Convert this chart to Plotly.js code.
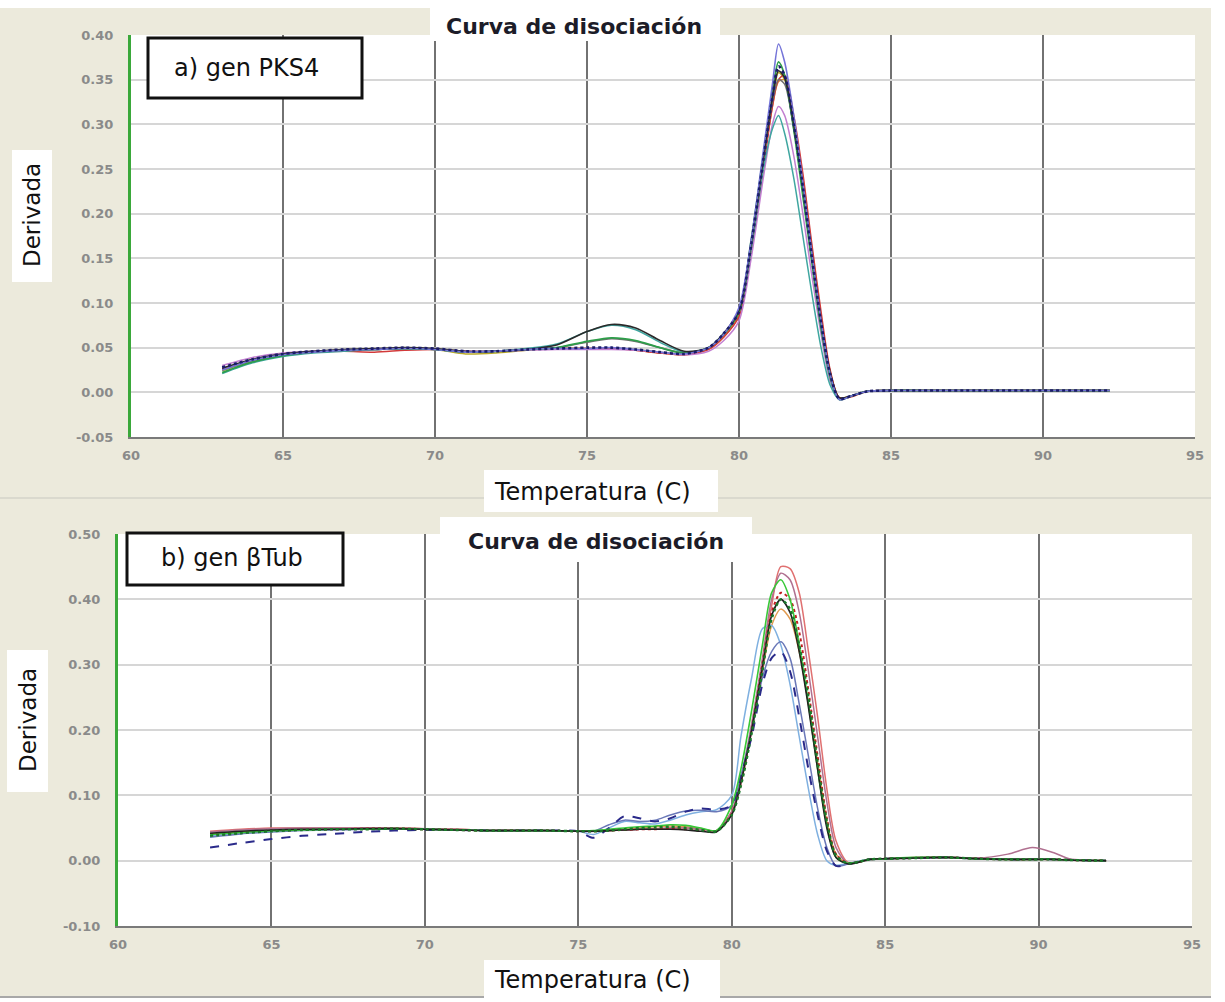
<!DOCTYPE html>
<html><head><meta charset="utf-8">
<script src="https://cdn.plot.ly/plotly-3.0.1.min.js"></script>
<style>html,body{margin:0;padding:0;background:#fff;}#chart{width:1225px;height:1002px;}</style>
</head><body><div id="chart"></div>
<script>
// ---------- DATA ----------
const tempA = [63,64,65,66,67,68,69,70,71,72,73,74,75,75.8,76.6,77.4,78.2,79,79.5,80,80.4,80.8,81.1,81.3,81.5,81.8,82.1,82.4,82.7,83,83.3,83.7,84.2,85,86,88,90,92.2];
const a_navy   = [0.028,0.037,0.043,0.046,0.048,0.049,0.05,0.049,0.046,0.046,0.048,0.049,0.05, 0.05,0.048,0.045,0.043,0.05,0.066, 0.09,0.165,0.26,0.33,0.365,0.355,0.30,0.23,0.15,0.078,0.02,-0.007,-0.004,0.001, 0.002,0.002,0.002,0.002,0.002];
const a_blue   = [0.025,0.036,0.042,0.045,0.047,0.048,0.049,0.048,0.045,0.046,0.048,0.049,0.049, 0.05,0.048,0.045,0.043,0.05,0.065, 0.095,0.17,0.27,0.345,0.39,0.37,0.31,0.235,0.155,0.08,0.02,-0.008,-0.004,0.001, 0.002,0.002,0.002,0.002,0.002];
const a_green  = [0.022,0.034,0.041,0.045,0.047,0.048,0.049,0.048,0.045,0.046,0.048,0.05,0.057, 0.061,0.058,0.05,0.044,0.05,0.065, 0.09,0.17,0.265,0.335,0.37,0.355,0.295,0.22,0.145,0.072,0.017,-0.008,-0.004,0.001, 0.002,0.002,0.002,0.002,0.002];
const a_black  = [0.027,0.037,0.043,0.046,0.048,0.049,0.05,0.049,0.046,0.046,0.048,0.053,0.068, 0.076,0.072,0.058,0.046,0.05,0.066, 0.092,0.168,0.262,0.33,0.36,0.352,0.30,0.232,0.155,0.08,0.022,-0.006,-0.004,0.001, 0.002,0.002,0.002,0.002,0.002];
const a_red    = [0.026,0.036,0.042,0.045,0.046,0.045,0.047,0.048,0.046,0.046,0.048,0.049,0.049, 0.049,0.047,0.044,0.042,0.048,0.062, 0.085,0.155,0.25,0.32,0.35,0.355,0.31,0.245,0.165,0.09,0.025,-0.006,-0.005,0.001, 0.002,0.002,0.002,0.002,0.002];
const a_olive  = [0.024,0.035,0.042,0.045,0.047,0.048,0.049,0.048,0.043,0.044,0.047,0.049,0.049, 0.05,0.048,0.045,0.043,0.05,0.064, 0.088,0.16,0.255,0.325,0.358,0.35,0.30,0.235,0.158,0.082,0.022,-0.007,-0.004,0.001, 0.002,0.002,0.002,0.002,0.002];
const a_purple = [0.03,0.039,0.044,0.046,0.047,0.048,0.049,0.048,0.046,0.046,0.047,0.048,0.048, 0.048,0.047,0.045,0.042,0.046,0.058, 0.08,0.15,0.24,0.30,0.32,0.31,0.265,0.20,0.13,0.065,0.012,-0.008,-0.004,0.001, 0.002,0.002,0.002,0.002,0.002];
const a_teal   = [0.021,0.033,0.04,0.044,0.046,0.048,0.049,0.048,0.045,0.046,0.049,0.054,0.068, 0.075,0.07,0.056,0.045,0.05,0.066, 0.09,0.16,0.25,0.295,0.31,0.29,0.24,0.175,0.11,0.05,0.008,-0.008,-0.004,0.001, 0.002,0.002,0.002,0.002,0.002];
const a_gray   = [0.025,0.036,0.042,0.045,0.047,0.048,0.049,0.048,0.045,0.046,0.048,0.05,0.056, 0.06,0.057,0.05,0.044,0.05,0.065, 0.09,0.165,0.258,0.325,0.35,0.345,0.295,0.228,0.15,0.076,0.019,-0.007,-0.004,0.001, 0.002,0.002,0.002,0.002,0.002];
const a_orange = [0.026,0.036,0.042,0.045,0.047,0.048,0.049,0.048,0.045,0.046,0.048,0.049,0.049, 0.049,0.047,0.044,0.042,0.048,0.062, 0.086,0.158,0.252,0.32,0.348,0.35,0.305,0.24,0.16,0.085,0.023,-0.006,-0.004,0.001, 0.002,0.002,0.002,0.002,0.002];

const tempB = [63,64,65,66,67,68,69,70,71,72,73,74,75,75.5,76,76.5,77,77.5,78,78.5,79,79.5,80,80.3,80.65,81,81.3,81.6,81.9,82.2,82.5,82.8,83.1,83.4,83.8,84.5,85,86,87,88,89,89.8,90.5,91,92.2];
const b_red     = [0.045,0.048,0.05,0.05,0.05,0.05,0.05,0.049,0.048,0.047,0.047,0.046,0.045, 0.045,0.046,0.047,0.048,0.049,0.05,0.05,0.048,0.046, 0.075,0.12,0.2,0.3,0.39,0.45,0.447,0.41,0.32,0.22,0.11,0.03,-0.003,0.002, 0.003,0.005,0.005,0.003,0.002,0.002,0.002,0.001,0.0];
const b_green   = [0.04,0.043,0.046,0.047,0.048,0.048,0.049,0.048,0.047,0.046,0.046,0.046,0.045, 0.046,0.048,0.05,0.052,0.053,0.055,0.054,0.05,0.046, 0.085,0.14,0.23,0.33,0.41,0.43,0.4,0.33,0.24,0.14,0.055,0.005,-0.004,0.002, 0.003,0.005,0.005,0.003,0.002,0.002,0.002,0.001,0.0];
const b_dkgreen = [0.038,0.042,0.045,0.047,0.048,0.048,0.049,0.048,0.047,0.046,0.046,0.046,0.045, 0.045,0.046,0.048,0.05,0.051,0.052,0.05,0.047,0.045, 0.07,0.115,0.195,0.29,0.37,0.40,0.385,0.33,0.25,0.15,0.06,0.008,-0.004,0.002, 0.003,0.004,0.005,0.003,0.002,0.002,0.002,0.001,0.0];
const b_black   = [0.042,0.045,0.047,0.048,0.048,0.049,0.049,0.048,0.047,0.046,0.046,0.046,0.045, 0.045,0.046,0.047,0.048,0.048,0.048,0.047,0.045,0.044, 0.07,0.12,0.2,0.295,0.375,0.40,0.38,0.32,0.235,0.14,0.05,0.005,-0.005,0.002, 0.003,0.004,0.005,0.003,0.002,0.002,0.002,0.001,0.0];
const b_orange  = [0.041,0.044,0.046,0.047,0.048,0.049,0.05,0.049,0.048,0.047,0.046,0.046,0.045, 0.045,0.046,0.048,0.05,0.052,0.053,0.052,0.049,0.046, 0.075,0.12,0.2,0.29,0.36,0.385,0.37,0.32,0.24,0.15,0.06,0.01,-0.004,0.002, 0.003,0.004,0.005,0.004,0.002,0.002,0.002,0.001,0.0];
const b_ltblue  = [0.038,0.042,0.045,0.047,0.048,0.048,0.049,0.048,0.047,0.046,0.046,0.046,0.045, 0.04,0.05,0.06,0.058,0.056,0.062,0.07,0.075,0.078, 0.1,0.19,0.28,0.355,0.36,0.33,0.27,0.19,0.11,0.04,0.0,-0.007,-0.004,0.002, 0.003,0.004,0.005,0.003,0.002,0.002,0.002,0.001,0.0];
const b_slate   = [0.036,0.041,0.044,0.046,0.047,0.048,0.049,0.048,0.047,0.046,0.046,0.046,0.045, 0.045,0.055,0.062,0.06,0.062,0.07,0.076,0.077,0.075, 0.085,0.13,0.2,0.28,0.32,0.335,0.31,0.24,0.16,0.08,0.02,-0.008,-0.005,0.002, 0.003,0.004,0.005,0.003,0.002,0.002,0.002,0.001,0.0];
const b_navy    = [0.02,0.027,0.033,0.038,0.041,0.044,0.046,0.047,0.047,0.046,0.046,0.046,0.045, 0.035,0.05,0.068,0.065,0.06,0.065,0.075,0.08,0.078, 0.085,0.13,0.19,0.27,0.31,0.32,0.29,0.22,0.14,0.07,0.015,-0.008,-0.005,0.002, 0.003,0.004,0.005,0.003,0.002,0.002,0.002,0.001,0.0];
const b_mauve   = [0.044,0.047,0.049,0.05,0.05,0.05,0.05,0.049,0.048,0.047,0.047,0.046,0.045, 0.045,0.046,0.047,0.048,0.049,0.05,0.05,0.048,0.046, 0.075,0.125,0.21,0.31,0.4,0.44,0.43,0.38,0.29,0.19,0.09,0.02,-0.004,0.002, 0.003,0.005,0.006,0.004,0.01,0.02,0.012,0.003,0.0];
const b_red2    = [0.04,0.043,0.046,0.047,0.048,0.049,0.049,0.048,0.047,0.046,0.046,0.046,0.045, 0.045,0.046,0.047,0.048,0.048,0.049,0.048,0.046,0.045, 0.072,0.118,0.2,0.3,0.38,0.41,0.40,0.35,0.26,0.16,0.065,0.01,-0.004,0.002, 0.003,0.004,0.005,0.003,0.002,0.002,0.002,0.001,0.0];

const xTicks = [60,65,70,75,80,85,90,95];
const yTicksA = [-0.05,0,0.05,0.10,0.15,0.20,0.25,0.30,0.35,0.40];
const yTicksB = [-0.10,0,0.10,0.20,0.30,0.40,0.50];
const titleText = "Curva de disociación";
const xTitle = "Temperatura (C)";
const yTitle = "Derivada";
const labelA = "a) gen PKS4";
const labelB = "b) gen βTub";

// ---------- STYLE ----------
const W = 1225, H = 1002;
const px = x => x / W;
const py = y => 1 - y / H;

const seriesA = [
  [a_orange,'#e0883a','solid',1.5],[a_olive,'#b8a828','solid',1.5],[a_red,'#d23a3a','solid',1.5],
  [a_purple,'#c27fd0','solid',1.5],[a_teal,'#3fa6a0','solid',1.5],[a_gray,'#707070','solid',1.5],
  [a_green,'#2e9e4a','solid',1.8],[a_black,'#2a2a2a','solid',1.6],[a_blue,'#7474d8','solid',1.6],
  [a_navy,'#1c1c6a','dot',2.6]
];
const seriesB = [
  [b_orange,'#e09a50','solid',1.5],[b_red,'#e07070','solid',1.5],[b_mauve,'#b07090','solid',1.5],
  [b_ltblue,'#7fb0e0','solid',1.5],[b_slate,'#6a78b8','solid',1.5],[b_navy,'#2a2a8a','dash',2.0],
  [b_red2,'#c02020','dot',2.0],[b_green,'#38c838','solid',1.6],[b_black,'#202020','solid',1.6],
  [b_dkgreen,'#1a7a2a','dot',2.4]
];

const traces = [];
seriesA.forEach(s => traces.push({x: tempA, y: s[0], xaxis:'x', yaxis:'y', mode:'lines',
  line:{color:s[1], dash:s[2], width:s[3], shape:'spline', smoothing:0.8}, hoverinfo:'skip'}));
seriesB.forEach(s => traces.push({x: tempB, y: s[0], xaxis:'x2', yaxis:'y2', mode:'lines',
  line:{color:s[1], dash:s[2], width:s[3], shape:'spline', smoothing:0.8}, hoverinfo:'skip'}));

const tickFont = {family:'DejaVu Sans, sans-serif', size:13, color:'#8a8a8a', weight:'bold'};
const xBase = {range:[60,95], tickmode:'array', tickvals:xTicks, ticktext:xTicks.map(String),
  showgrid:true, gridcolor:'#727272', gridwidth:2, showline:true, linecolor:'#7a7a7a', linewidth:2,
  zeroline:false, ticks:'', tickfont:tickFont, ticklabelstandoff:5, fixedrange:true};
const yBase = {showgrid:true, gridcolor:'#d6d6d6', gridwidth:2, showline:true, linecolor:'#3aa83a', linewidth:3,
  zeroline:false, ticks:'', tickfont:tickFont, ticklabelstandoff:12, fixedrange:true};

const txt = (size, bold) => ({family:'DejaVu Sans, sans-serif', size:size, color: bold ? '#1c1c28' : '#111'});

const layout = {
  width:W, height:H, margin:{l:0,r:0,t:0,b:0}, showlegend:false,
  paper_bgcolor:'#ECEADC', plot_bgcolor:'#ffffff',
  xaxis: Object.assign({}, xBase, {domain:[px(131), px(1195)], anchor:'y'}),
  yaxis: Object.assign({}, yBase, {domain:[py(437), py(35)], anchor:'x', range:[-0.05,0.40],
    tickvals:yTicksA, ticktext:yTicksA.map(v=>v.toFixed(2))}),
  xaxis2: Object.assign({}, xBase, {domain:[px(118), px(1192)], anchor:'y2'}),
  yaxis2: Object.assign({}, yBase, {domain:[py(926), py(534)], anchor:'x2', range:[-0.10,0.50],
    tickvals:yTicksB, ticktext:yTicksB.map(v=>v.toFixed(2))}),
  shapes: [
    {type:'rect', xref:'paper', yref:'paper', x0:0, x1:1, y0:py(8), y1:1, fillcolor:'#fff', line:{width:0}, layer:'below'},
    {type:'rect', xref:'paper', yref:'paper', x0:px(1211), x1:1, y0:0, y1:1, fillcolor:'#fff', line:{width:0}, layer:'below'},
    {type:'rect', xref:'paper', yref:'paper', x0:0, x1:1, y0:0, y1:py(997), fillcolor:'#fff', line:{width:0}, layer:'below'},
    {type:'line', xref:'paper', yref:'paper', x0:0, x1:px(1211), y0:py(997), y1:py(997), line:{color:'#a8a8a8', width:2}},
    {type:'line', xref:'paper', yref:'paper', x0:0, x1:px(1211), y0:py(498), y1:py(498), line:{color:'#c8c8c0', width:1}},
    {type:'rect', xref:'paper', yref:'paper', x0:px(430), x1:px(720), y0:py(41), y1:py(8), fillcolor:'#fff', line:{width:0}},
    {type:'rect', xref:'paper', yref:'paper', x0:px(440), x1:px(752), y0:py(562), y1:py(517), fillcolor:'#fff', line:{width:0}},
    {type:'rect', xref:'paper', yref:'paper', x0:px(484), x1:px(718), y0:py(512), y1:py(470), fillcolor:'#fff', line:{width:0}},
    {type:'rect', xref:'paper', yref:'paper', x0:px(484), x1:px(720), y0:py(1000), y1:py(960), fillcolor:'#fff', line:{width:0}},
    {type:'rect', xref:'paper', yref:'paper', x0:px(12), x1:px(52), y0:py(282), y1:py(150), fillcolor:'#fff', line:{width:0}},
    {type:'rect', xref:'paper', yref:'paper', x0:px(7), x1:px(48), y0:py(792), y1:py(650), fillcolor:'#fff', line:{width:0}},
    {type:'rect', xref:'paper', yref:'paper', x0:px(148), x1:px(362), y0:py(98), y1:py(38), fillcolor:'#fff', line:{color:'#111', width:3}},
    {type:'rect', xref:'paper', yref:'paper', x0:px(127), x1:px(343), y0:py(585), y1:py(533), fillcolor:'#fff', line:{color:'#111', width:3}}
  ],
  annotations: [
    {text:'<b>'+titleText+'</b>', x:px(574), y:py(26), xref:'paper', yref:'paper', showarrow:false, xanchor:'center', yanchor:'middle', font:txt(22,true)},
    {text:'<b>'+titleText+'</b>', x:px(596), y:py(541), xref:'paper', yref:'paper', showarrow:false, xanchor:'center', yanchor:'middle', font:txt(22,true)},
    {text:xTitle, x:px(592), y:py(492), xref:'paper', yref:'paper', showarrow:false, xanchor:'center', yanchor:'middle', font:txt(24)},
    {text:xTitle, x:px(592), y:py(980), xref:'paper', yref:'paper', showarrow:false, xanchor:'center', yanchor:'middle', font:txt(24)},
    {text:yTitle, x:px(32), y:py(215), xref:'paper', yref:'paper', showarrow:false, textangle:-90, xanchor:'center', yanchor:'middle', font:txt(23)},
    {text:yTitle, x:px(28), y:py(720), xref:'paper', yref:'paper', showarrow:false, textangle:-90, xanchor:'center', yanchor:'middle', font:txt(23)},
    {text:labelA, x:px(246), y:py(68), xref:'paper', yref:'paper', showarrow:false, xanchor:'center', yanchor:'middle', font:txt(24)},
    {text:labelB, x:px(232), y:py(558), xref:'paper', yref:'paper', showarrow:false, xanchor:'center', yanchor:'middle', font:txt(24)}
  ]
};

Plotly.newPlot('chart', traces, layout, {displayModeBar:false, staticPlot:true});
</script></body></html>
